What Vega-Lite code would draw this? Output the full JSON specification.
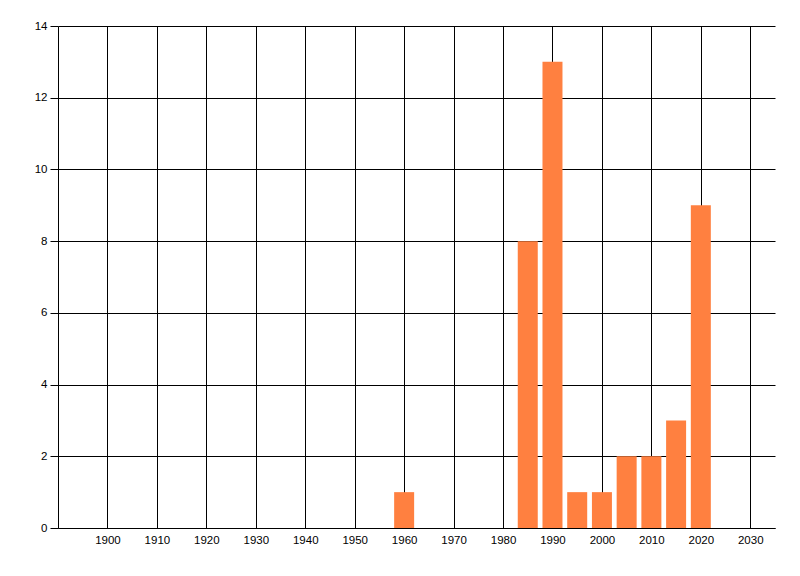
{
  "$schema": "https://vega.github.io/schema/vega-lite/v6.json",
  "autosize": "none",
  "width": 717,
  "height": 502,
  "padding": {"left": 58, "top": 26, "right": 25, "bottom": 48},
  "background": "white",
  "config": {
    "view": {"stroke": null},
    "axis": {
      "labelFont": "Liberation Sans",
      "labelFontSize": 11,
      "labelColor": "#000000",
      "domainColor": "#000000",
      "domainWidth": 1,
      "gridColor": "#000000",
      "gridWidth": 1,
      "gridOpacity": 1,
      "tickColor": "#000000",
      "title": null
    }
  },
  "data": {
    "values": [
      {"year": 1960, "count": 1},
      {"year": 1985, "count": 8},
      {"year": 1990, "count": 13},
      {"year": 1995, "count": 1},
      {"year": 2000, "count": 1},
      {"year": 2005, "count": 2},
      {"year": 2010, "count": 2},
      {"year": 2015, "count": 3},
      {"year": 2020, "count": 9}
    ]
  },
  "mark": {"type": "bar", "size": 20, "color": "#ff8040", "cornerRadius": 0},
  "encoding": {
    "x": {
      "field": "year",
      "type": "quantitative",
      "scale": {"domain": [1890, 2035], "nice": false, "zero": false, "padding": 0},
      "axis": {
        "values": [1900, 1910, 1920, 1930, 1940, 1950, 1960, 1970, 1980, 1990, 2000, 2010, 2020, 2030],
        "format": "d",
        "grid": true,
        "ticks": false,
        "labelFontSize": 11.5,
        "labelPadding": 6,
        "labelFlush": false,
        "labelOverlap": false
      }
    },
    "y": {
      "field": "count",
      "type": "quantitative",
      "scale": {"domain": [0, 14], "nice": false},
      "axis": {
        "values": [0, 2, 4, 6, 8, 10, 12, 14],
        "grid": true,
        "ticks": true,
        "tickSize": 8,
        "labelFontSize": 11.5,
        "labelPadding": 3,
        "labelFlush": false,
        "labelOverlap": false
      }
    }
  }
}
